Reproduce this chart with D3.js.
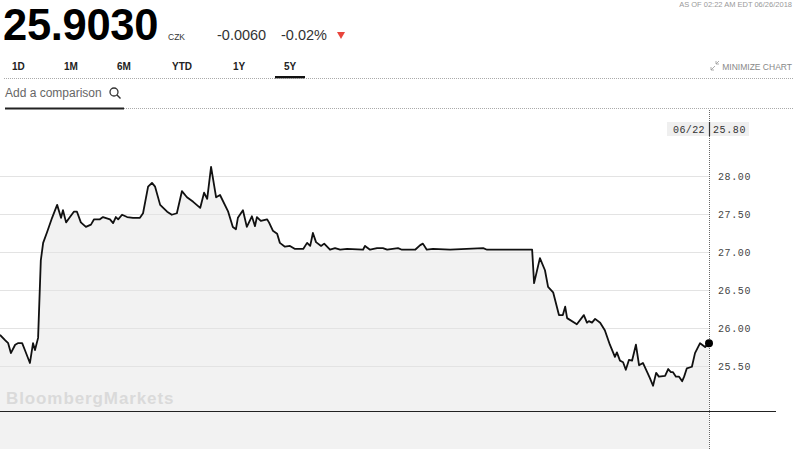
<!DOCTYPE html>
<html>
<head>
<meta charset="utf-8">
<script src="https://cdnjs.cloudflare.com/ajax/libs/d3/7.8.5/d3.min.js"></script>
<style>
  html, body { margin: 0; padding: 0; background: #fff; }
  svg { display: block; font-family: "Liberation Sans", Arial, sans-serif; }
</style>
</head>
<body>
<svg id="chart" width="800" height="449"></svg>
<script>
// 5Y history, days since the start of the range
const startDate = new Date(2013, 5, 24);
const endDate = new Date(2018, 5, 22);
const dayOffsets = [0, 13, 21, 28, 39, 46, 57, 64, 77, 85, 90, 98, 105, 111, 121, 134, 147, 157, 162, 170,
  180, 190, 198, 208, 221, 234, 242, 257, 265, 283, 291, 298, 304, 314, 327, 342, 360, 368, 381, 391,
  399, 412, 430, 442, 455, 468, 481, 497, 515, 525, 533, 543, 556, 566, 587, 599, 607, 612, 625, 635,
  648, 656, 661, 671, 687, 692, 702, 713, 720, 733, 746, 759, 780, 790, 798, 805, 813, 826, 834, 849,
  862, 875, 893, 934, 939, 952, 970, 985, 996, 1024, 1034, 1068, 1081, 1088, 1098, 1114, 1158, 1243, 1253, 1369,
  1374, 1389, 1402, 1410, 1423, 1438, 1448, 1454, 1459, 1484, 1502, 1510, 1515, 1523, 1531, 1544, 1556, 1569, 1582, 1587,
  1595, 1603, 1610, 1618, 1626, 1636, 1644, 1654, 1665, 1672, 1680, 1688, 1695, 1711, 1719, 1726, 1731, 1739, 1747, 1755,
  1760, 1767, 1780, 1788, 1801, 1814, 1824];
const prices = [25.91, 25.84, 25.80, 25.67, 25.78, 25.80, 25.80, 25.71, 25.54, 25.80, 25.71, 25.87, 26.89, 27.12, 27.26, 27.45, 27.62, 27.45, 27.55, 27.39,
  27.46, 27.53, 27.53, 27.39, 27.33, 27.36, 27.43, 27.43, 27.46, 27.43, 27.38, 27.46, 27.43, 27.49, 27.46, 27.45, 27.45, 27.51, 27.86, 27.91,
  27.86, 27.62, 27.53, 27.49, 27.51, 27.80, 27.72, 27.66, 27.58, 27.78, 27.70, 28.12, 27.72, 27.75, 27.53, 27.33, 27.30, 27.45, 27.55, 27.33,
  27.47, 27.34, 27.46, 27.41, 27.43, 27.39, 27.28, 27.24, 27.12, 27.07, 27.08, 27.04, 27.04, 27.12, 27.08, 27.25, 27.13, 27.08, 27.11, 27.03,
  27.05, 27.03, 27.04, 27.03, 27.08, 27.03, 27.05, 27.05, 27.03, 27.05, 27.03, 27.03, 27.09, 27.11, 27.03, 27.04, 27.03, 27.05, 27.03, 27.03,
  26.59, 26.92, 26.76, 26.54, 26.47, 26.17, 26.17, 26.28, 26.13, 26.05, 26.17, 26.07, 26.09, 26.07, 26.12, 26.07, 25.97, 25.78, 25.62, 25.68,
  25.57, 25.55, 25.45, 25.58, 25.57, 25.78, 25.51, 25.54, 25.42, 25.34, 25.24, 25.41, 25.36, 25.37, 25.46, 25.42, 25.42, 25.36, 25.36, 25.30,
  25.36, 25.47, 25.49, 25.67, 25.80, 25.75, 25.80];
const yTicks = [25.5, 26.0, 26.5, 27.0, 27.5, 28.0];
const tabs = ['1D', '1M', '6M', 'YTD', '1Y', '5Y'];
const activeTab = '5Y';

const data = dayOffsets.map((d, i) => ({ date: d3.timeDay.offset(startDate, d), value: prices[i] }));
const last = data[data.length - 1];

const svg = d3.select('#chart');
const plotRight = 709;
const plotBottom = 449;

const x = d3.scaleTime().domain([startDate, endDate]).range([0, plotRight]);
const y = d3.scaleLinear().domain([24.9, 28.9]).range([411.6, 107.6]);

// ---- header ----
svg.append('text').attr('x', 3).attr('y', 40)
  .attr('font-size', 43.5).attr('font-weight', 'bold').attr('fill', '#000')
  .attr('letter-spacing', -0.3)
  .text('25.9030');
svg.append('text').attr('x', 168).attr('y', 40)
  .attr('font-size', 8.5).attr('fill', '#333').text('CZK');
svg.append('text').attr('x', 217).attr('y', 40)
  .attr('font-size', 14.5).attr('fill', '#333').text('-0.0060');
svg.append('text').attr('x', 281).attr('y', 40)
  .attr('font-size', 14.5).attr('fill', '#333').text('-0.02%');
svg.append('path').attr('d', 'M337,32 L345,32 L341,39 Z').attr('fill', '#e8453c');

svg.append('text').attr('x', 792).attr('y', 6.5).attr('text-anchor', 'end')
  .attr('font-size', 7.5).attr('fill', '#999').text('AS OF 02:22 AM EDT 06/26/2018');

// ---- tabs ----
const tabX = [12, 64, 117, 172, 233, 284];
tabs.forEach((t, i) => {
  svg.append('text').attr('x', tabX[i]).attr('y', 70)
    .attr('font-size', 10).attr('font-weight', 'bold').attr('fill', '#222').text(t);
});
const activeIdx = tabs.indexOf(activeTab);
svg.append('rect').attr('x', tabX[activeIdx] - 9).attr('y', 76).attr('width', 30).attr('height', 2.5).attr('fill', '#111');

svg.append('line').attr('x1', 4).attr('x2', 793).attr('y1', 78.5).attr('y2', 78.5)
  .attr('stroke', '#aaa').attr('stroke-dasharray', '1,1');

svg.append('text').attr('x', 792).attr('y', 70).attr('text-anchor', 'end')
  .attr('font-size', 8.5).attr('fill', '#888').text('MINIMIZE CHART');
// minimize icon
svg.append('path').attr('d', 'M711,70 L715,66 M711,67 L711,70 L714,70 M719,61 L716,64 M716,61 L716,64 L719,64')
  .attr('stroke', '#999').attr('stroke-width', 0.8).attr('fill', 'none');

// ---- comparison ----
svg.append('text').attr('x', 5).attr('y', 97)
  .attr('font-size', 12).attr('fill', '#666').text('Add a comparison');
svg.append('circle').attr('cx', 114).attr('cy', 92).attr('r', 4)
  .attr('fill', 'none').attr('stroke', '#333').attr('stroke-width', 1.3);
svg.append('line').attr('x1', 117).attr('y1', 95).attr('x2', 120.5).attr('y2', 98.5)
  .attr('stroke', '#333').attr('stroke-width', 1.4);
svg.append('rect').attr('x', 5).attr('y', 107.5).attr('width', 119).attr('height', 2).attr('fill', '#222');
svg.append('line').attr('x1', 124).attr('x2', 793).attr('y1', 108.5).attr('y2', 108.5)
  .attr('stroke', '#aaa').attr('stroke-dasharray', '1,1');

// ---- chart ----
const area = d3.area().x(d => x(d.date)).y0(plotBottom).y1(d => y(d.value));
svg.append('path').datum(data).attr('d', area).attr('fill', '#f2f2f2');

svg.append('g').selectAll('line').data(yTicks).join('line')
  .attr('x1', 0).attr('x2', plotRight)
  .attr('y1', d => Math.round(y(d)) + 0.5).attr('y2', d => Math.round(y(d)) + 0.5)
  .attr('stroke', '#e3e3e3').attr('stroke-width', 1);

svg.append('g').selectAll('text').data(yTicks).join('text')
  .attr('x', 718).attr('y', d => y(d) + 3.5)
  .attr('font-family', '"Liberation Mono", "Courier New", monospace')
  .attr('font-size', 10).attr('fill', '#444').attr('letter-spacing', 0.6)
  .text(d => d3.format('.2f')(d));

const line = d3.line().x(d => x(d.date)).y(d => y(d.value));
svg.append('path').datum(data).attr('d', line)
  .attr('fill', 'none').attr('stroke', '#111').attr('stroke-width', 1.8).attr('stroke-linejoin', 'round');

svg.append('text').attr('x', 6).attr('y', 404)
  .attr('font-size', 17).attr('font-weight', 'bold').attr('fill', '#dadada')
  .attr('letter-spacing', 0.9).text('BloombergMarkets');

// baseline
svg.append('line').attr('x1', 0).attr('x2', 776).attr('y1', 411.5).attr('y2', 411.5)
  .attr('stroke', '#222').attr('stroke-width', 1.2);

// crosshair
svg.append('line').attr('x1', x(last.date) + 0.5).attr('x2', x(last.date) + 0.5).attr('y1', 110).attr('y2', 449)
  .attr('stroke', '#666').attr('stroke-dasharray', '1,1');

const fmtDate = d3.timeFormat('%m/%d');
svg.append('rect').attr('x', 667).attr('y', 122).attr('width', 82).attr('height', 14).attr('fill', '#efefef');
svg.append('line').attr('x1', x(last.date) + 0.5).attr('x2', x(last.date) + 0.5).attr('y1', 122).attr('y2', 136)
  .attr('stroke', '#333').attr('stroke-width', 1.2);
svg.append('text').attr('x', 705).attr('y', 132.5).attr('text-anchor', 'end')
  .attr('font-family', '"Liberation Mono", "Courier New", monospace')
  .attr('font-size', 10).attr('fill', '#333').attr('letter-spacing', 0.4)
  .text(fmtDate(last.date));
svg.append('text').attr('x', 713).attr('y', 132.5)
  .attr('font-family', '"Liberation Mono", "Courier New", monospace')
  .attr('font-size', 10).attr('fill', '#333').attr('letter-spacing', 0.6)
  .text(d3.format('.2f')(last.value));

svg.append('circle').attr('cx', x(last.date)).attr('cy', y(last.value)).attr('r', 4).attr('fill', '#000');
</script>
</body>
</html>
